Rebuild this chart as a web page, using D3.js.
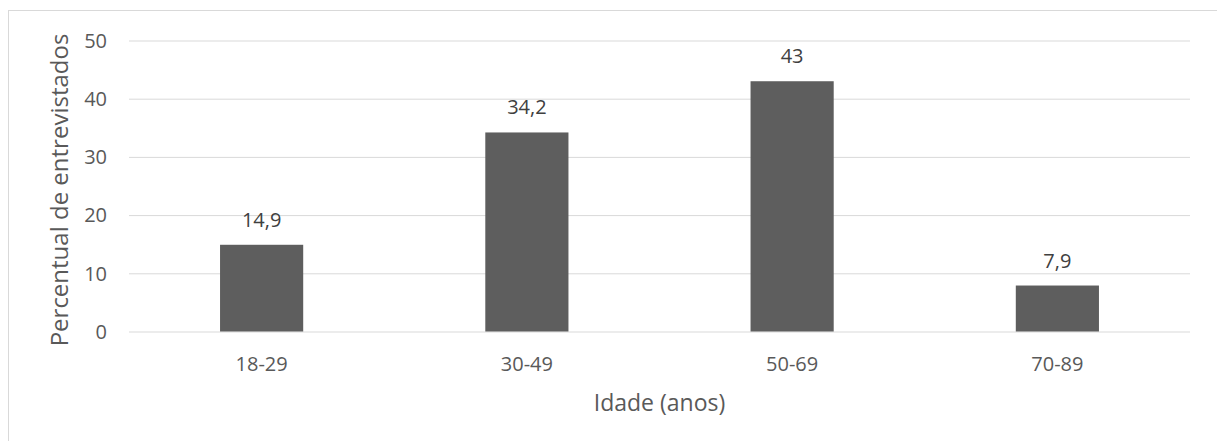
<!DOCTYPE html>
<html>
<head>
<meta charset="utf-8">
<script src="https://cdn.jsdelivr.net/npm/d3@7"></script>
<style>
  html, body { margin: 0; padding: 0; background: #ffffff; }
  svg { display: block; font-family: "Open Sans", sans-serif; }
</style>
</head>
<body>
<svg id="chart" width="1217" height="441"></svg>
<script>
const categories = ["18-29", "30-49", "50-69", "70-89"];
const values = [14.9, 34.2, 43, 7.9];
const valueLabels = ["14,9", "34,2", "43", "7,9"];
const yTicks = [0, 10, 20, 30, 40, 50];
const xTitle = "Idade (anos)";
const yTitle = "Percentual de entrevistados";

const W = 1217, H = 441;
const plot = { left: 129, right: 1190, top: 40.5, bottom: 331.5 };

const svg = d3.select("#chart");

// outer chart border (right/bottom fall outside the picture)
svg.append("rect")
  .attr("x", 8.5).attr("y", 10.5)
  .attr("width", 1230).attr("height", 450)
  .attr("fill", "none").attr("stroke", "#d9d9d9").attr("stroke-width", 1);

const x = d3.scaleBand()
  .domain(categories)
  .range([plot.left, plot.right])
  .paddingInner(0.6865)
  .paddingOuter(0.6865 / 2);

const y = d3.scaleLinear().domain([0, 50]).range([plot.bottom, plot.top]);

// y axis with gridlines
const yAxis = svg.append("g")
  .attr("transform", `translate(${plot.left},0)`)
  .call(d3.axisLeft(y).tickValues(yTicks).tickFormat(d3.format("d"))
    .tickSize(-(plot.right - plot.left)).tickPadding(22));
yAxis.select(".domain").remove();
yAxis.selectAll(".tick line").attr("stroke", "#d9d9d9").attr("stroke-width", 1);
yAxis.selectAll(".tick text")
  .attr("fill", "#595959").attr("font-size", "20px")
  .attr("font-family", "Open Sans, sans-serif")
  .attr("dy", "0.34em");

// bars
svg.append("g").selectAll("rect")
  .data(values)
  .join("rect")
  .attr("x", (d, i) => x(categories[i]))
  .attr("width", x.bandwidth())
  .attr("y", d => y(d))
  .attr("height", d => y(0) - y(d))
  .attr("fill", "#5e5e5e");

// data labels
svg.append("g").selectAll("text")
  .data(values)
  .join("text")
  .attr("x", (d, i) => x(categories[i]) + x.bandwidth() / 2)
  .attr("y", d => y(d) - 18)
  .attr("text-anchor", "middle")
  .attr("font-size", "20px")
  .attr("fill", "#404040")
  .text((d, i) => valueLabels[i]);

// x axis (category labels)
const xAxis = svg.append("g")
  .attr("transform", `translate(0,${plot.bottom})`)
  .call(d3.axisBottom(x).tickSize(0).tickPadding(0));
xAxis.select(".domain").remove();
xAxis.selectAll(".tick text")
  .attr("fill", "#595959").attr("font-size", "20px")
  .attr("font-family", "Open Sans, sans-serif")
  .attr("dy", null)
  .attr("y", 371 - plot.bottom);

// axis titles
svg.append("text")
  .attr("x", (plot.left + plot.right) / 2)
  .attr("y", 411)
  .attr("text-anchor", "middle")
  .attr("font-size", "23px")
  .attr("fill", "#595959")
  .text(xTitle);

svg.append("text")
  .attr("transform", `translate(68,190) rotate(-90)`)
  .attr("text-anchor", "middle")
  .attr("font-size", "24px")
  .attr("fill", "#595959")
  .text(yTitle);
</script>
</body>
</html>
